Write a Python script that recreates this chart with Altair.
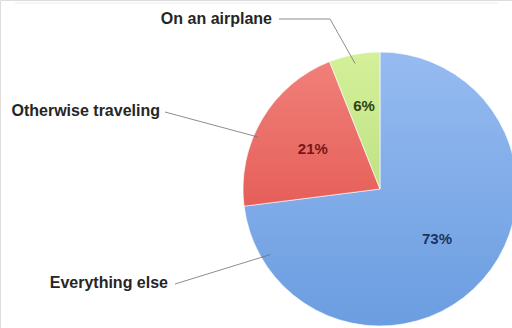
import math
import altair as alt
import pandas as pd

categories = ["Everything else", "Otherwise traveling", "On an airplane"]
shares = [73, 21, 6]
pct_labels = ["73%", "21%", "6%"]

# (top, bottom) gradient colours per slice
grad_colors = [("#96bbf1", "#6b9de0"), ("#f08079", "#e65f5a"), ("#d4f09a", "#bfe284")]
text_colors = ["#1d3461", "#7a1616", "#2c4310"]

W, H = 512, 328
CX, CY, R = 380, 189, 137

df = pd.DataFrame({"cat": categories, "share": shares, "pct": pct_labels,
                   "ord": list(range(len(categories)))})

# slice angle spans (clockwise from 12 o'clock)
total = sum(shares)
starts, ends = [], []
acc = 0
for s in shares:
    starts.append(acc / total * 2 * math.pi)
    acc += s
    ends.append(acc / total * 2 * math.pi)

def pt(theta, r):
    return CX + r * math.sin(theta), CY - r * math.cos(theta)

# leader lines: (fraction within slice, radius) -> anchor on slice; label layout
anchor_spec = {"Everything else": (0.91, 128), "Otherwise traveling": (0.40, 133), "On an airplane": (0.48, 128)}
label_layout = {
    "Everything else": {"tx": 168, "ty": 283, "path": [(175, 284)]},
    "Otherwise traveling": {"tx": 160, "ty": 111, "path": [(165, 112)]},
    "On an airplane": {"tx": 272, "ty": 19, "path": [(279, 19), (330, 19)]},
}
rows, lab_rows = [], []
for i, c in enumerate(categories):
    f, r = anchor_spec[c]
    th = starts[i] + f * (ends[i] - starts[i])
    ax, ay = pt(th, r)
    pts = label_layout[c]["path"] + [(ax, ay)]
    for k, (x, y) in enumerate(pts):
        rows.append({"cat": c, "k": k, "x": x, "y": y})
    lab_rows.append({"cat": c, "x": label_layout[c]["tx"], "y": label_layout[c]["ty"]})
lines_df = pd.DataFrame(rows)
labs_df = pd.DataFrame(lab_rows)


def grad(top, bottom):
    return {"gradient": "linear", "x1": 0, "y1": 0, "x2": 0, "y2": 1,
            "stops": [{"offset": 0, "color": top}, {"offset": 1, "color": bottom}]}


fill_cond = {
    "condition": [{"test": f"datum.cat === '{c}'", "value": grad(*grad_colors[i])}
                  for i, c in enumerate(categories[:-1])],
    "value": grad(*grad_colors[-1]),
}

pie = alt.Chart(df).mark_arc(outerRadius=R, stroke="#ffffff", strokeWidth=0.6).encode(
    theta=alt.Theta("share:Q", stack=True),
    order=alt.Order("ord:Q"),
    x=alt.value(CX), y=alt.value(CY),
    color=fill_cond,
)

radii = {"Everything else": 76, "Otherwise traveling": 78, "On an airplane": 85}
r_expr = " : ".join(
    [f"datum.cat === '{c}' ? {radii[c]}" for c in categories[:-1]] + [str(radii[categories[-1]])]
)
color_cond = {
    "condition": [{"test": f"datum.cat === '{c}'", "value": text_colors[i]}
                  for i, c in enumerate(categories[:-1])],
    "value": text_colors[-1],
}

pct = alt.Chart(df).transform_window(
    cum="sum(share)", sort=[alt.SortField("ord")], frame=[None, 0]
).transform_calculate(
    mid="datum.cum - datum.share / 2", r=r_expr
).mark_text(font="Liberation Sans", fontWeight="bold", fontSize=15).encode(
    theta=alt.Theta("mid:Q", stack=None, scale=alt.Scale(domain=[0, total])),
    x=alt.value(CX), y=alt.value(CY), text="pct:N",
    radius=alt.Radius("r:Q", scale=None),
    color=color_cond,
)

leaders = alt.Chart(lines_df).mark_line(color="#707070", strokeWidth=0.8).encode(
    x=alt.X("x:Q", scale=None), y=alt.Y("y:Q", scale=None),
    detail="cat:N", order="k:Q",
)

labels = alt.Chart(labs_df).mark_text(
    align="right", baseline="middle", font="Liberation Sans", fontWeight="bold",
    fontSize=16, color="#262626",
).encode(x=alt.X("x:Q", scale=None), y=alt.Y("y:Q", scale=None), text="cat:N")

top_rule = alt.Chart(pd.DataFrame({"a": [0]})).mark_rule(color="#ececec", strokeWidth=1).encode(
    x=alt.value(15), x2=alt.value(498), y=alt.value(3)
)

chart = alt.layer(top_rule, pie, pct, leaders, labels).resolve_scale(
    theta="independent"
).properties(
    width=W, height=H, padding=0, autosize=alt.AutoSizeParams(type="none")
).configure_view(stroke=None).configure(background="#ffffff")

chart.save("out.html", embed_options={"renderer": "svg", "actions": False})
